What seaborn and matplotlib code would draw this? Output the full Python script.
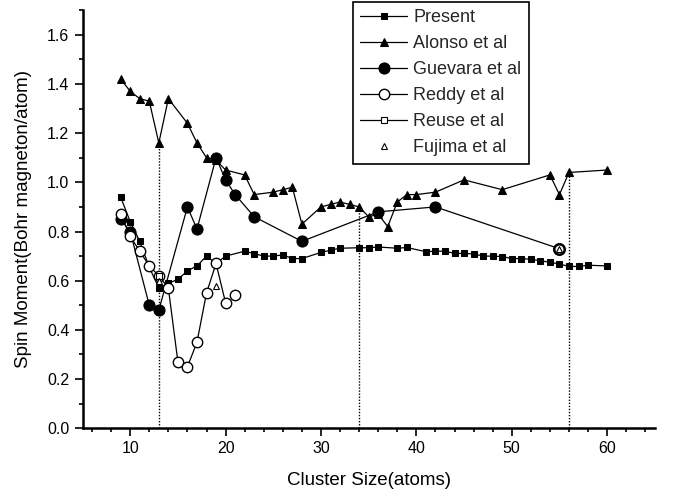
import matplotlib
matplotlib.use("Agg")
import matplotlib.pyplot as plt
import seaborn as sns
import numpy as np
from matplotlib.ticker import MultipleLocator

# ---------------- data ----------------
present_x = [9, 10, 11, 12, 13, 14, 15, 16, 17, 18, 19, 20, 22, 23, 24, 25, 26, 27, 28,
             30, 31, 32, 34, 35, 36, 38, 39, 41, 42, 43, 44, 45, 46, 47, 48, 49, 50,
             51, 52, 53, 54, 55, 56, 57, 58, 60]
present_y = [0.94, 0.84, 0.76, 0.655, 0.57, 0.59, 0.605, 0.64, 0.66, 0.70, 0.67, 0.70,
             0.72, 0.71, 0.70, 0.70, 0.705, 0.69, 0.69, 0.715, 0.724, 0.732, 0.734,
             0.734, 0.737, 0.732, 0.735, 0.718, 0.72, 0.72, 0.711, 0.711, 0.709, 0.70,
             0.70, 0.698, 0.69, 0.69, 0.687, 0.681, 0.675, 0.668, 0.658, 0.658, 0.663, 0.66]

alonso_x = [9, 10, 11, 12, 13, 14, 16, 17, 18, 19, 20, 22, 23, 25, 26, 27, 28, 30, 31,
            32, 33, 34, 35, 36, 37, 38, 39, 40, 42, 45, 49, 54, 55, 56, 60]
alonso_y = [1.42, 1.37, 1.34, 1.33, 1.16, 1.34, 1.24, 1.16, 1.10, 1.09, 1.05, 1.03,
            0.95, 0.96, 0.97, 0.98, 0.83, 0.90, 0.91, 0.92, 0.91, 0.90, 0.86, 0.87,
            0.82, 0.92, 0.95, 0.95, 0.96, 1.01, 0.97, 1.03, 0.95, 1.04, 1.05]

guevara_x = [9, 10, 12, 13, 16, 17, 19, 20, 21, 23, 28, 36, 42, 55]
guevara_y = [0.85, 0.80, 0.50, 0.48, 0.90, 0.81, 1.10, 1.01, 0.95, 0.86, 0.76, 0.88, 0.90, 0.73]

reddy_x = [9, 10, 11, 12, 13, 14, 15, 16, 17, 18, 19, 20]
reddy_y = [0.87, 0.78, 0.72, 0.66, 0.62, 0.57, 0.27, 0.25, 0.35, 0.55, 0.67, 0.51]
reddy_extra_x = [21]
reddy_extra_y = [0.54]
overlap_x = [55]
overlap_y = [0.73]

reuse_x = [13]
reuse_y = [0.62]

fujima_x = [13, 19, 55]
fujima_y = [0.60, 0.58, 0.73]

guide_x = [13, 34, 56]
guide_top = [1.16, 0.90, 1.04]

labels = ["Present", "Alonso et al", "Guevara et al", "Reddy et al", "Reuse et al", "Fujima et al"]

# ---------------- style ----------------
sns.set_theme(style="ticks")
plt.rcParams["font.family"] = ["Liberation Sans", "DejaVu Sans"]

fig = plt.figure(figsize=(6.73, 4.99), dpi=100)
ax = fig.add_axes([0.1226, 0.1417, 0.8504, 0.838])

lw = 0.9
ax.vlines(guide_x, 0, guide_top, colors="black", linestyles=(0, (1, 1.2)), linewidth=1.0, zorder=1)

sns.lineplot(x=alonso_x, y=alonso_y, ax=ax, color="black", linewidth=lw, marker="^",
             markersize=5.5, markeredgecolor="black", markerfacecolor="black",
             label=labels[1], zorder=3, sort=False)
sns.lineplot(x=present_x, y=present_y, ax=ax, color="black", linewidth=lw, marker="s",
             markersize=4.0, markeredgecolor="black", markerfacecolor="black",
             label=labels[0], zorder=3, sort=False)
sns.lineplot(x=guevara_x, y=guevara_y, ax=ax, color="black", linewidth=lw, marker="o",
             markersize=8, markeredgecolor="black", markerfacecolor="black",
             label=labels[2], zorder=4, sort=False)
sns.lineplot(x=reddy_x, y=reddy_y, ax=ax, color="black", linewidth=lw, marker="o",
             markersize=7.5, markeredgecolor="black", markerfacecolor="white",
             markeredgewidth=1.0, label=labels[3], zorder=5, sort=False)
ax.plot(reddy_extra_x, reddy_extra_y, linestyle="none", marker="o", markersize=7.5,
        markeredgecolor="black", markerfacecolor="white", markeredgewidth=1.0, zorder=5)
ax.plot(overlap_x, overlap_y, linestyle="none", marker="o", markersize=7.5,
        markeredgecolor="black", markerfacecolor="white", markeredgewidth=1.8, zorder=5)
sns.lineplot(x=reuse_x, y=reuse_y, ax=ax, color="black", linewidth=lw, marker="s",
             markersize=4.2, markeredgecolor="black", markerfacecolor="white",
             markeredgewidth=0.8, label=labels[4], zorder=6, sort=False)
sns.lineplot(x=fujima_x, y=fujima_y, ax=ax, color="black", linewidth=0, marker="^",
             markersize=5, markeredgecolor="black", markerfacecolor="white",
             markeredgewidth=0.8, label=labels[5], zorder=6, sort=False)

ax.set_xlim(5, 65)
ax.xaxis.set_major_locator(MultipleLocator(10))
ax.xaxis.set_minor_locator(MultipleLocator(2))
ax.yaxis.set_minor_locator(MultipleLocator(0.1))
ax.yaxis.set_major_formatter(matplotlib.ticker.FormatStrFormatter("%.1f"))
ax.set_yticks(np.arange(0, 1.61, 0.2))
ax.set_ylim(0, 1.7)

for s in ["top", "right"]:
    ax.spines[s].set_visible(False)
for s in ["left", "bottom"]:
    ax.spines[s].set_linewidth(1.8)
    ax.spines[s].set_color("black")

ax.tick_params(axis="both", which="major", direction="out", length=5.5, width=1.2,
               labelsize=11.5, colors="black", pad=4)
ax.tick_params(axis="both", which="minor", direction="out", length=3, width=1.2, colors="black")

ax.set_xlabel("Cluster Size(atoms)", fontsize=13.5, labelpad=11, color="black")
ax.set_ylabel("Spin Moment(Bohr magneton/atom)", fontsize=13.5, labelpad=11, color="black")

handles, labs = ax.get_legend_handles_labels()
order = [labs.index(l) for l in labels]
leg = ax.legend([handles[i] for i in order], [labs[i] for i in order],
                loc="upper left", bbox_to_anchor=(353 / 673, 1 - 2 / 499),
                bbox_transform=fig.transFigure, fontsize=13, frameon=True,
                fancybox=False, edgecolor="black", framealpha=1,
                handlelength=2.6, handletextpad=0.35, labelspacing=0.5,
                borderpad=0.4, borderaxespad=0)
leg.get_frame().set_linewidth(1.2)

fig.savefig("out.png", dpi=100)
